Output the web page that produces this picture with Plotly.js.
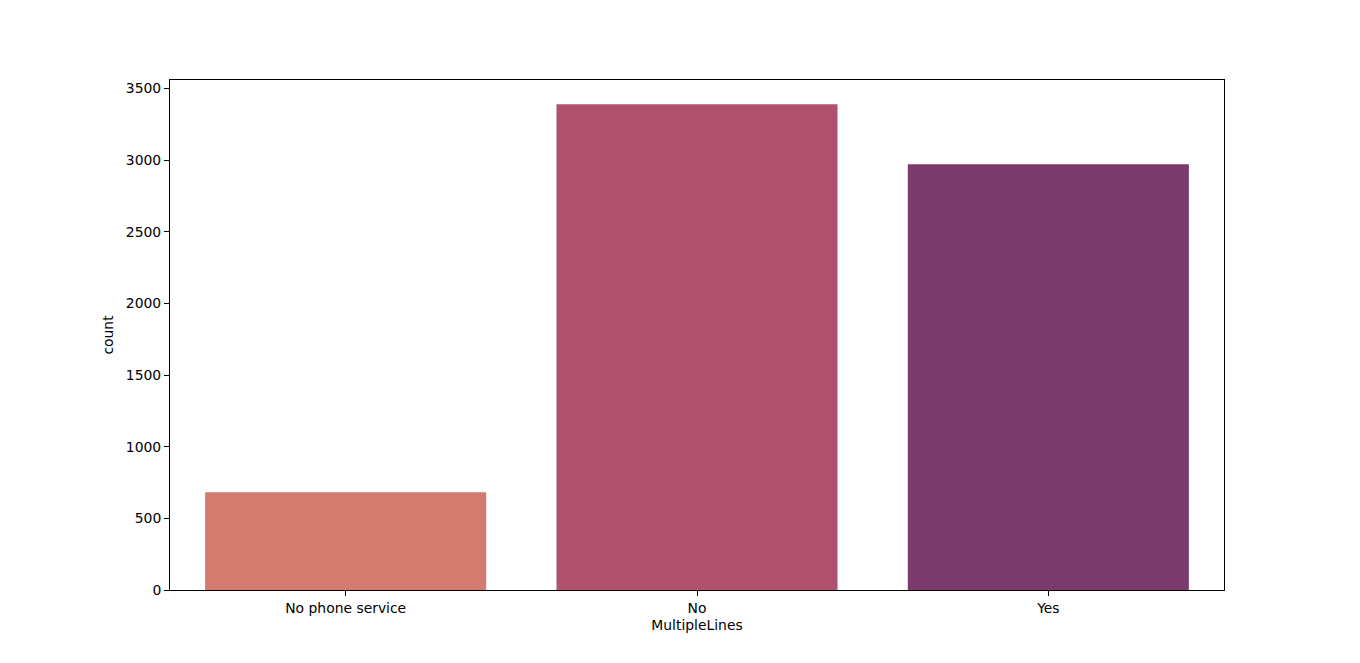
<!DOCTYPE html>
<html>
<head>
<meta charset="utf-8">
<script src="https://cdn.plot.ly/plotly-3.0.1.min.js"></script>
<style>html,body{margin:0;padding:0;background:#fff;}#chart{width:1360px;height:663px;}</style>
</head>
<body>
<div id="chart"></div>
<script>
const categories = ["No phone service", "No", "Yes"];
const counts = [682, 3390, 2971];
const colors = ["#d37b6e", "#b0526d", "#7b3a6c"];
const yTicks = [0, 500, 1000, 1500, 2000, 2500, 3000, 3500];

const trace = {
  type: "bar",
  x: categories,
  y: counts,
  width: 0.8,
  marker: {color: colors, line: {width: 0}},
  hoverinfo: "x+y"
};
const layout = {
  width: 1360, height: 663,
  margin: {l: 170, r: 136, t: 80, b: 73},
  paper_bgcolor: "#fff", plot_bgcolor: "#fff",
  font: {family: "DejaVu Sans", size: 13.9, color: "#000"},
  showlegend: false,
  bargap: 0.2,
  xaxis: {
    type: "category",
    range: [-0.5, 2.5],
    showgrid: false, zeroline: false,
    showline: true, mirror: true, linecolor: "#000", linewidth: 1,
    ticks: "outside", ticklen: 5, tickcolor: "#000",
    tickfont: {size: 13.9},
    title: {text: "MultipleLines", font: {size: 13.9}, standoff: 5}
  },
  yaxis: {
    range: [0, 3559.5],
    tickvals: yTicks,
    ticktext: yTicks.map(String),
    showgrid: false, zeroline: false,
    showline: true, mirror: true, linecolor: "#000", linewidth: 1,
    ticks: "outside", ticklen: 5, tickcolor: "#000",
    tickfont: {size: 13.9},
    title: {text: "count", font: {size: 13.9}, standoff: 8}
  }
};
Plotly.newPlot("chart", [trace], layout, {displayModeBar: false, staticPlot: true});
</script>
</body>
</html>
